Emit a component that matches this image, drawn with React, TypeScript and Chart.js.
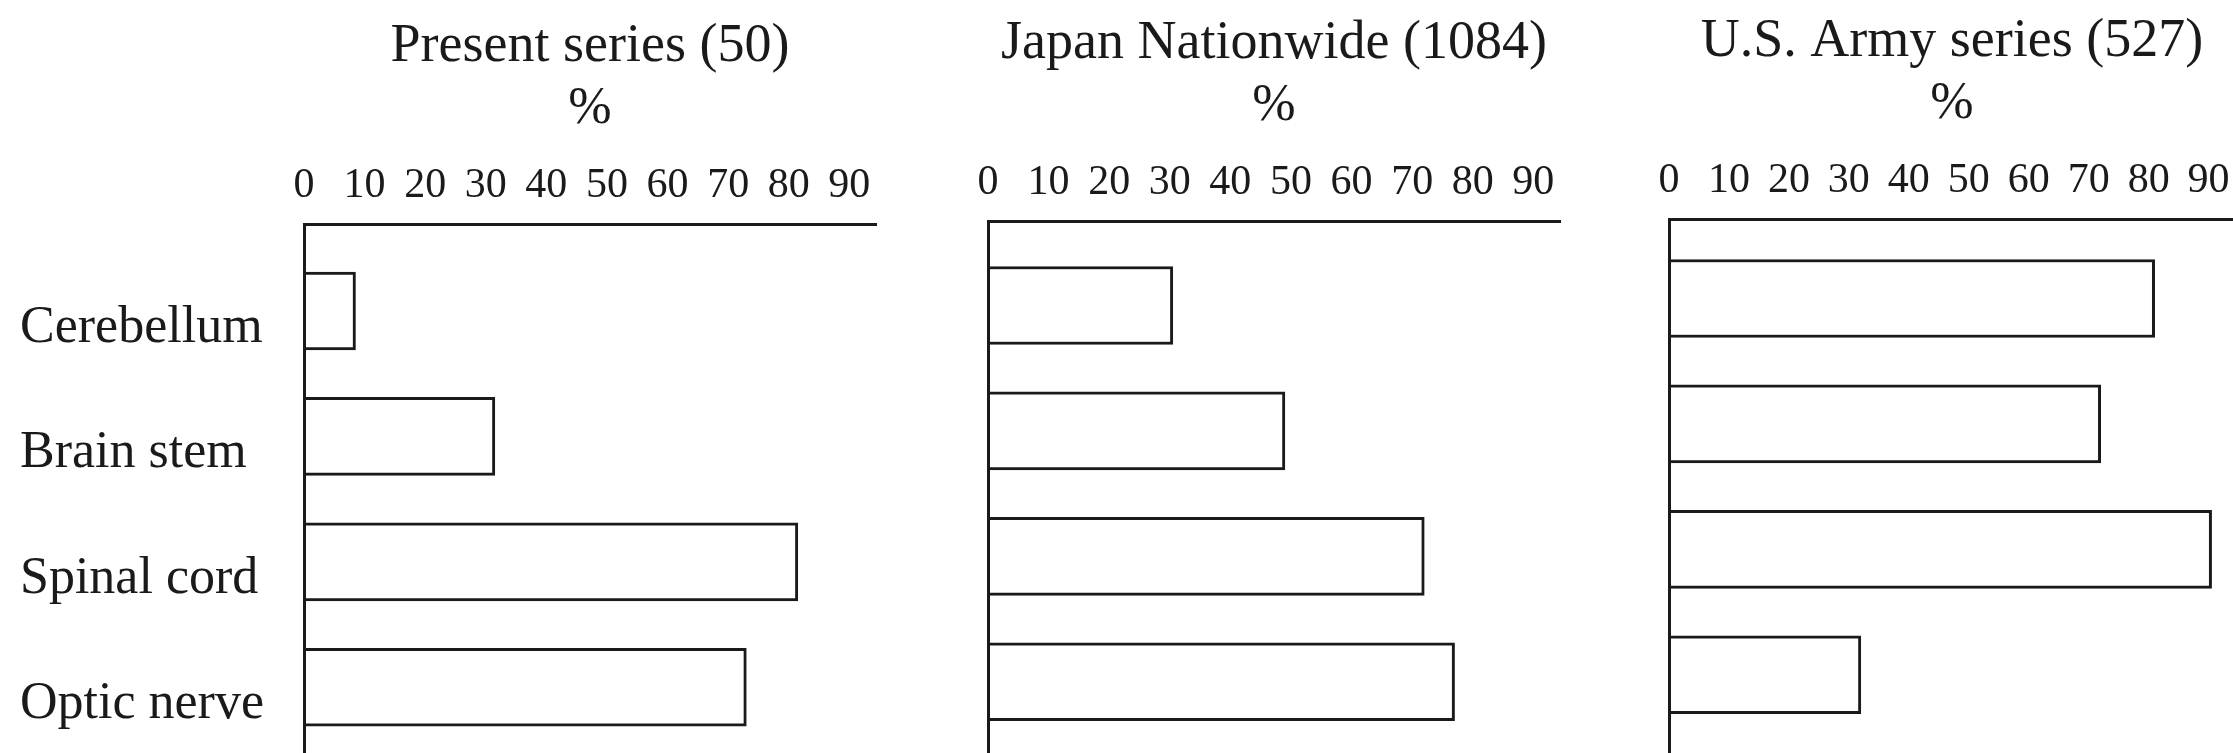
import React, { useEffect, useRef } from "react";
import { Chart, registerables } from "chart.js";

Chart.register(...registerables);

// ---- data ----
const CATEGORIES = ["Cerebellum", "Brain stem", "Spinal cord", "Optic nerve"];
const TICK_VALUES = [0, 10, 20, 30, 40, 50, 60, 70, 80, 90];
const PRESENT_SERIES = [8.5, 31.5, 81.5, 73];
const JAPAN_NATIONWIDE = [30.5, 49, 72, 77];
const US_ARMY_SERIES = [81, 72, 90.5, 32];
const PANEL_TITLES = ["Present series (50)", "Japan Nationwide (1084)", "U.S. Army series (527)"];
const UNIT_LABEL = "%";

const SERIES = [PRESENT_SERIES, JAPAN_NATIONWIDE, US_ARMY_SERIES];

// ---- layout & style ----
const VIEW_W = 2233;
const VIEW_H = 753;
const INK = "#1a1a1a";
const SERIF = "'Liberation Serif', 'Times New Roman', serif";
const X_MAX = 94.4;
const CHART_TOP = 222; // chart-area top inside each canvas
const ROW_PX = 126; // vertical distance between rows

const PANELS = [
  { left: 0, top: 0, padLeft: 20, padRight: 24, plotW: 572, showCategories: true, yMin: -0.69 },
  { left: 974, top: -3, padLeft: 14, padRight: 24, plotW: 572, showCategories: false, yMin: -0.67 },
  { left: 1655, top: -5, padLeft: 14, padRight: 0, plotW: 566, showCategories: false, yMin: -0.63 },
];
const CATEGORY_AXIS_W = 284;

function Panel({ index }: { index: number }) {
  const ref = useRef<HTMLCanvasElement>(null);
  const p = PANELS[index];
  const height = VIEW_H - p.top;
  const width = p.padLeft + (p.showCategories ? CATEGORY_AXIS_W : 0) + p.plotW + p.padRight;

  useEffect(() => {
    const yMax = p.yMin + (height - CHART_TOP) / ROW_PX;
    const chart = new Chart(ref.current as HTMLCanvasElement, {
      type: "bar",
      data: {
        datasets: [
          {
            data: SERIES[index].map((v, i) => ({ x: v, y: i })),
            backgroundColor: "#ffffff",
            borderColor: INK,
            borderWidth: 3,
            barThickness: 78,
          },
        ],
      },
      options: {
        indexAxis: "y",
        responsive: false,
        animation: false,
        events: [],
        layout: { padding: { left: p.padLeft, right: p.padRight, top: 0, bottom: 0 } },
        plugins: {
          legend: { display: false },
          tooltip: { enabled: false },
          title: {
            display: true,
            text: PANEL_TITLES[index],
            fullSize: false,
            color: INK,
            font: { family: SERIF, size: 54, weight: "normal", lineHeight: 1 },
            padding: { top: 20, bottom: 0 },
          },
          subtitle: {
            display: true,
            text: UNIT_LABEL,
            fullSize: false,
            color: INK,
            font: { family: SERIF, size: 52, weight: "normal", lineHeight: 1 },
            padding: { top: 9, bottom: 12.5 },
          },
        },
        scales: {
          x: {
            type: "linear",
            position: "top",
            min: 0,
            max: X_MAX,
            offset: false,
            afterBuildTicks: (s: any) => {
              s.ticks = TICK_VALUES.map((v) => ({ value: v }));
            },
            afterFit: (s: any) => {
              s.paddingLeft = 0;
              s.paddingRight = 0;
            },
            grid: { display: false, drawTicks: false },
            border: { display: true, color: INK, width: 3, z: 1 },
            ticks: {
              color: INK,
              padding: 17.5,
              maxRotation: 0,
              autoSkip: false,
              font: { family: SERIF, size: 42, lineHeight: 1 },
            },
          },
          y: {
            type: "linear",
            reverse: true,
            min: p.yMin,
            max: yMax,
            offset: false,
            afterBuildTicks: (s: any) => {
              s.ticks = CATEGORIES.map((_, i) => ({ value: i }));
            },
            afterFit: (s: any) => {
              if (p.showCategories) s.width = CATEGORY_AXIS_W;
              s.paddingTop = 0;
              s.paddingBottom = 0;
            },
            grid: { display: false, drawTicks: false, offset: false },
            border: { display: true, color: INK, width: 3, z: 1 },
            ticks: {
              display: p.showCategories,
              callback: (v: any) => CATEGORIES[v as number] ?? "",
              crossAlign: "far",
              padding: 0,
              labelOffset: 17,
              color: INK,
              autoSkip: false,
              font: { family: SERIF, size: 52, lineHeight: 1 },
            },
          },
        },
      } as any,
    });
    return () => chart.destroy();
  }, [index]);

  return (
    <canvas
      ref={ref}
      width={width}
      height={height}
      style={{ position: "absolute", left: p.left, top: p.top, width, height }}
    />
  );
}

export default function App() {
  return (
    <div
      style={{
        position: "fixed",
        left: 0,
        top: 0,
        width: VIEW_W,
        height: VIEW_H,
        overflow: "hidden",
        background: "#ffffff",
      }}
    >
      {PANEL_TITLES.map((_, i) => (
        <Panel key={i} index={i} />
      ))}
    </div>
  );
}
